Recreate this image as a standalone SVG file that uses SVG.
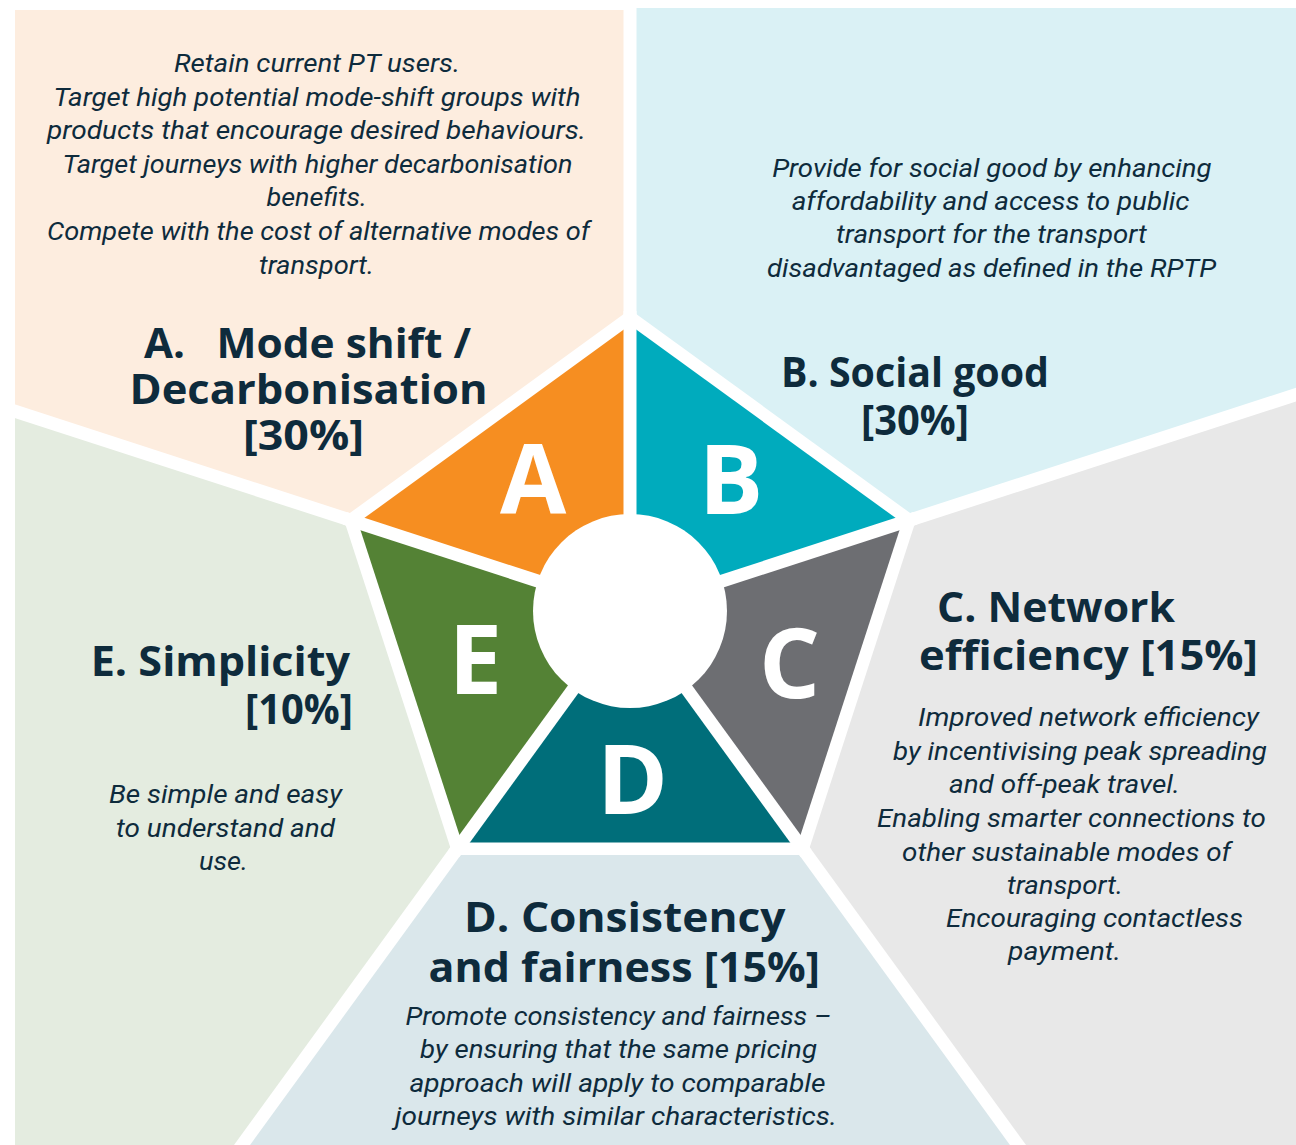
<svg xmlns="http://www.w3.org/2000/svg" width="1296" height="1145" viewBox="0 0 1296 1145">
  <style>
    .desc { font-family: Roboto, "Liberation Sans", sans-serif; font-style: italic; font-size: 25px; fill: #0E2B3C; }
    .title { font-family: "Open Sans", "Liberation Sans", sans-serif; font-weight: 700; font-size: 41px; fill: #0E2B3C; }
    .big { font-family: "Open Sans", "Liberation Sans", sans-serif; font-weight: 700; font-size: 96px; fill: #FFFFFF; text-anchor: middle; }
    .sep { stroke: #FFFFFF; stroke-width: 13; fill: none; }
  </style>

  <rect x="0" y="0" width="1296" height="1145" fill="#FFFFFF"/>

  <!-- background sectors, split along rays from the hub -->
  <g id="panels">
    <polygon points="630,611 630,10 15,10 15,411.2" fill="#FDEDDF"/>
    <polygon points="630,611 630,8 1296,8 1296,394.6" fill="#DAF1F5"/>
    <polygon points="630,611 1296,394.6 1296,1145 1018,1145" fill="#E8E8E8"/>
    <polygon points="630,611 1018,1145 242,1145" fill="#DAE7EB"/>
    <polygon points="630,611 242,1145 15,1145 15,411.2" fill="#E4ECE0"/>
  </g>

  <!-- white gutters between sectors and around the pentagon -->
  <g id="separators">
    <line class="sep" x1="630" y1="611" x2="630" y2="-189"/>
    <line class="sep" x1="630" y1="611" x2="1390.8" y2="363.8"/>
    <line class="sep" x1="630" y1="611" x2="1100.2" y2="1258.2"/>
    <line class="sep" x1="630" y1="611" x2="159.8" y2="1258.2"/>
    <line class="sep" x1="630" y1="611" x2="-130.8" y2="363.8"/>
    <polygon points="630,309.5 916.74,517.83 807.22,854.92 452.78,854.92 343.26,517.83" fill="#FFFFFF"/>
  </g>

  <g id="node-a">
    <polygon points="630,611 630,325 358,522.62" fill="#F68E21"/>
    <text class="big" x="533" y="514">A</text>
    <text class="title" x="144" y="358" textLength="41" lengthAdjust="spacingAndGlyphs">A.</text>
    <text class="title" x="216.5" y="358" textLength="254.5" lengthAdjust="spacingAndGlyphs">Mode shift /</text>
    <text class="title" x="129.5" y="404" textLength="358" lengthAdjust="spacingAndGlyphs">Decarbonisation</text>
    <text class="title" x="243" y="450" textLength="121" lengthAdjust="spacingAndGlyphs">[30%]</text>
    <text class="desc" x="174" y="72" textLength="286" lengthAdjust="spacingAndGlyphs">Retain current PT users.</text>
    <text class="desc" x="53.6" y="105.5" textLength="527" lengthAdjust="spacingAndGlyphs">Target high potential mode-shift groups with</text>
    <text class="desc" x="47" y="139" textLength="539" lengthAdjust="spacingAndGlyphs">products that encourage desired behaviours.</text>
    <text class="desc" x="62.5" y="172.7" textLength="510" lengthAdjust="spacingAndGlyphs">Target journeys with higher decarbonisation</text>
    <text class="desc" x="266.5" y="206.3" textLength="100.5" lengthAdjust="spacingAndGlyphs">benefits.</text>
    <text class="desc" x="47" y="240" textLength="543" lengthAdjust="spacingAndGlyphs">Compete with the cost of alternative modes of</text>
    <text class="desc" x="259" y="273.5" textLength="115" lengthAdjust="spacingAndGlyphs">transport.</text>
  </g>

  <g id="node-b">
    <polygon points="630,611 630,325 902,522.62" fill="#00ABBD"/>
    <text class="big" x="731" y="514">B</text>
    <text class="title" x="781" y="386.7" textLength="268" lengthAdjust="spacingAndGlyphs">B. Social good</text>
    <text class="title" x="861" y="435" textLength="108" lengthAdjust="spacingAndGlyphs">[30%]</text>
    <text class="desc" x="772.2" y="176.7" textLength="439.4" lengthAdjust="spacingAndGlyphs">Provide for social good by enhancing</text>
    <text class="desc" x="791.7" y="210" textLength="397.7" lengthAdjust="spacingAndGlyphs">affordability and access to public</text>
    <text class="desc" x="836.1" y="243.3" textLength="310.7" lengthAdjust="spacingAndGlyphs">transport for the transport</text>
    <text class="desc" x="766.9" y="276.7" textLength="449.1" lengthAdjust="spacingAndGlyphs">disadvantaged as defined in the RPTP</text>
  </g>

  <g id="node-c">
    <polygon points="630,611 902,522.62 798.11,842.38" fill="#6D6E72"/>
    <text class="big" x="789.5" y="698">C</text>
    <text class="title" x="937" y="621.5" textLength="238" lengthAdjust="spacingAndGlyphs">C. Network</text>
    <text class="title" x="919" y="670" textLength="339" lengthAdjust="spacingAndGlyphs">efficiency [15%]</text>
    <text class="desc" x="918" y="726" textLength="341" lengthAdjust="spacingAndGlyphs">Improved network efficiency</text>
    <text class="desc" x="893" y="759.5" textLength="374" lengthAdjust="spacingAndGlyphs">by incentivising peak spreading</text>
    <text class="desc" x="949" y="793" textLength="231" lengthAdjust="spacingAndGlyphs">and off-peak travel.</text>
    <text class="desc" x="877" y="827" textLength="389" lengthAdjust="spacingAndGlyphs">Enabling smarter connections to</text>
    <text class="desc" x="902" y="860.5" textLength="329" lengthAdjust="spacingAndGlyphs">other sustainable modes of</text>
    <text class="desc" x="1007" y="893.5" textLength="116" lengthAdjust="spacingAndGlyphs">transport.</text>
    <text class="desc" x="946" y="927" textLength="297" lengthAdjust="spacingAndGlyphs">Encouraging contactless</text>
    <text class="desc" x="1008" y="960" textLength="113" lengthAdjust="spacingAndGlyphs">payment.</text>
  </g>

  <g id="node-d">
    <polygon points="630,611 798.11,842.38 461.89,842.38" fill="#006E7A"/>
    <text class="big" x="632.5" y="814">D</text>
    <text class="title" x="464" y="931.7" textLength="321.5" lengthAdjust="spacingAndGlyphs">D. Consistency</text>
    <text class="title" x="428.5" y="981.7" textLength="391.5" lengthAdjust="spacingAndGlyphs">and fairness [15%]</text>
    <text class="desc" x="405.5" y="1025" textLength="426" lengthAdjust="spacingAndGlyphs">Promote consistency and fairness –</text>
    <text class="desc" x="420" y="1058.3" textLength="397" lengthAdjust="spacingAndGlyphs">by ensuring that the same pricing</text>
    <text class="desc" x="409.5" y="1091.7" textLength="416" lengthAdjust="spacingAndGlyphs">approach will apply to comparable</text>
    <text class="desc" x="395" y="1125" textLength="442" lengthAdjust="spacingAndGlyphs">journeys with similar characteristics.</text>
  </g>

  <g id="node-e">
    <polygon points="630,611 461.89,842.38 358,522.62" fill="#548235"/>
    <text class="big" x="475.5" y="694">E</text>
    <text class="title" x="90.7" y="676" textLength="259.3" lengthAdjust="spacingAndGlyphs">E. Simplicity</text>
    <text class="title" x="245" y="724" textLength="108" lengthAdjust="spacingAndGlyphs">[10%]</text>
    <text class="desc" x="109" y="803" textLength="233" lengthAdjust="spacingAndGlyphs">Be simple and easy</text>
    <text class="desc" x="116" y="837" textLength="219" lengthAdjust="spacingAndGlyphs">to understand and</text>
    <text class="desc" x="199" y="870" textLength="49" lengthAdjust="spacingAndGlyphs">use.</text>
  </g>

  <!-- spokes between the coloured wedges, and the hub -->
  <g id="hub">
    <line class="sep" x1="630" y1="611" x2="630" y2="311"/>
    <line class="sep" x1="630" y1="611" x2="915.3" y2="518.3"/>
    <line class="sep" x1="630" y1="611" x2="806.3" y2="853.7"/>
    <line class="sep" x1="630" y1="611" x2="453.7" y2="853.7"/>
    <line class="sep" x1="630" y1="611" x2="344.7" y2="518.3"/>
    <circle cx="630" cy="611" r="97" fill="#FFFFFF"/>
  </g>
</svg>
